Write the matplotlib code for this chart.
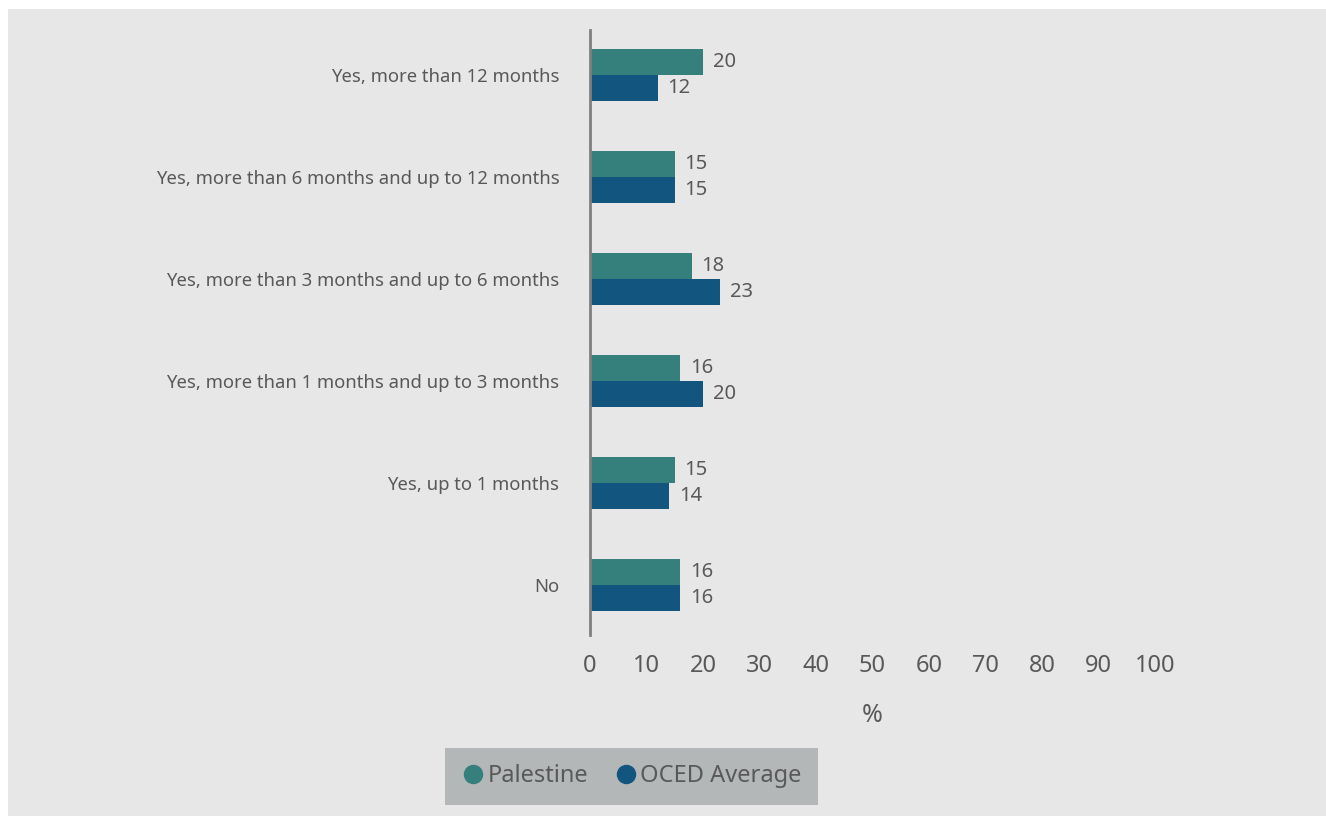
import matplotlib
matplotlib.use("Agg")
import matplotlib.pyplot as plt
from matplotlib.patches import Rectangle
from matplotlib.lines import Line2D
import numpy as np

categories = ["Yes, more than 12 months",
              "Yes, more than 6 months and up to 12 months",
              "Yes, more than 3 months and up to 6 months",
              "Yes, more than 1 months and up to 3 months",
              "Yes, up to 1 months",
              "No"]
palestine = [20, 15, 18, 16, 15, 16]
oecd = [12, 15, 23, 20, 14, 16]
series_names = ["Palestine", "OCED Average"]
xticks = [0, 10, 20, 30, 40, 50, 60, 70, 80, 90, 100]

c_pal = "#35807c"
c_oecd = "#12557f"
txt = "#595959"
bg = "#e7e7e7"

plt.rcParams['font.family'] = ['Noto Sans', 'DejaVu Sans']

fig = plt.figure(figsize=(13.26, 8.16), dpi=100)
fig.patch.set_facecolor("white")
fig.add_artist(Rectangle((8/1326, 0), 1 - 8/1326, 1 - 9/816, transform=fig.transFigure,
                         facecolor=bg, edgecolor="none", zorder=-10))

W, H = 1326, 816
left, right, top, bottom = 590, 1155, 30, 635
ax = fig.add_axes([left / W, 1 - bottom / H, (right - left) / W, (bottom - top) / H])
ax.set_facecolor("none")

y = np.arange(len(categories))
h = 0.258
b1 = ax.barh(y - h / 2, palestine, height=h, color=c_pal, label=series_names[0])
b2 = ax.barh(y + h / 2, oecd, height=h, color=c_oecd, label=series_names[1])
ax.bar_label(b1, padding=7, fontsize=14.5, color=txt)
ax.bar_label(b2, padding=7, fontsize=14.5, color=txt)

ax.set_xlim(0, 100)
ax.set_ylim(5.49, -0.44)
ax.set_yticks(y)
ax.set_yticklabels(categories, fontsize=13.3, color=txt)
ax.tick_params(axis='y', length=0, pad=22)
ax.set_xticks(xticks)
ax.set_xticklabels([str(v) for v in xticks], fontsize=17, color=txt)
ax.tick_params(axis='x', length=0, pad=14)
for s in ["top", "right", "bottom"]:
    ax.spines[s].set_visible(False)
ax.spines["left"].set_color("#7f7f7f")
ax.spines["left"].set_linewidth(2)
ax.set_xlabel("%", fontsize=18, color=txt, labelpad=18)

handles = [Line2D([], [], marker='o', linestyle='none', markersize=13, color=c_pal),
           Line2D([], [], marker='o', linestyle='none', markersize=13, color=c_oecd)]
leg = fig.legend(handles, series_names, loc='center', bbox_to_anchor=(631.5 / W, 1 - 776.5 / H),
                 ncol=2, frameon=True, fontsize=17, handletextpad=0.1, handlelength=1.0,
                 columnspacing=1.1, borderpad=0.7, borderaxespad=0, fancybox=False, labelcolor=txt)
leg.get_frame().set_facecolor("#b4b7b8")
leg.get_frame().set_edgecolor("none")
leg.get_frame().set_alpha(1)

fig.savefig("out.png", dpi=100, facecolor=fig.get_facecolor())
